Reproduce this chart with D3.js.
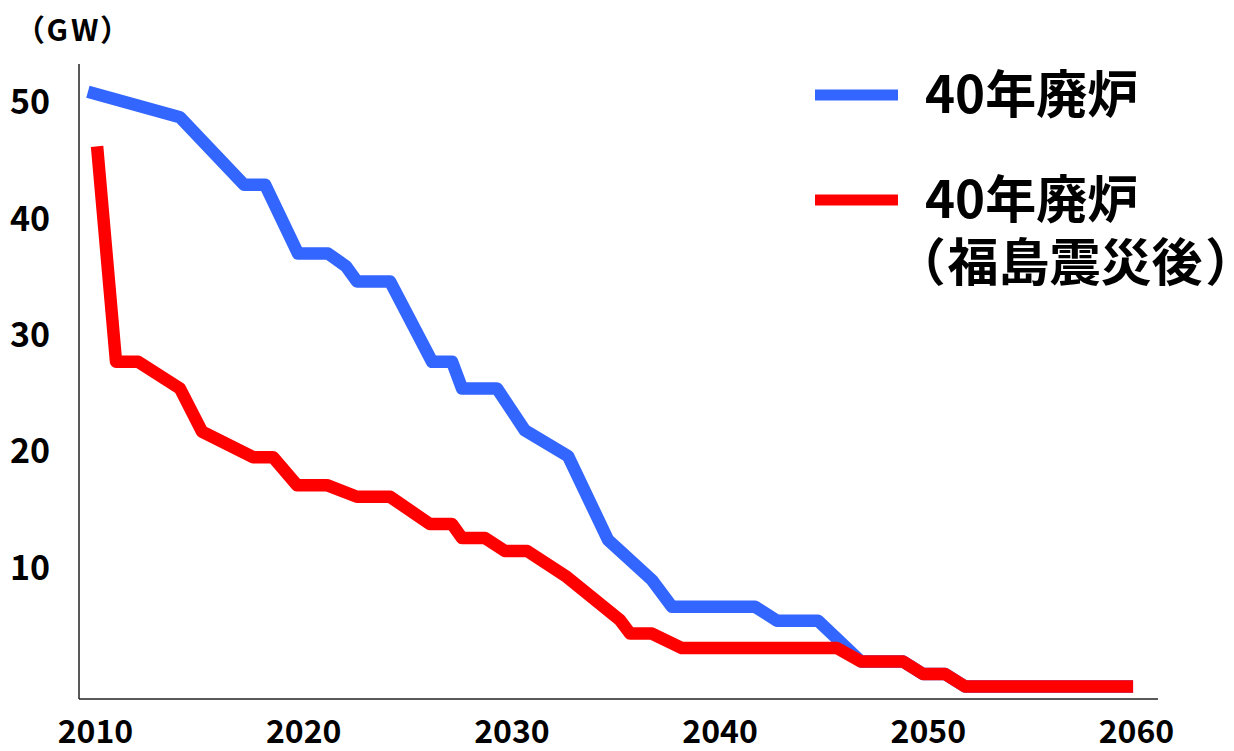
<!DOCTYPE html>
<html>
<head>
<meta charset="utf-8">
<script src="https://cdn.jsdelivr.net/npm/d3@7"></script>
<style>
  html, body { margin: 0; padding: 0; background: #fff; }
  svg { display: block; }
  text { font-family: "Noto Sans CJK JP", "Noto Sans", sans-serif; font-weight: 700; fill: #000; }
  .palt { font-feature-settings: "palt"; }
</style>
</head>
<body>
<svg id="chart" width="1234" height="751"></svg>
<script>
// Installed nuclear capacity (GW) remaining under a 40-year retirement rule
const yTickValues = [10, 20, 30, 40, 50];
const xTickValues = [2010, 2020, 2030, 2040, 2050, 2060];
const seriesNames = ["40年廃炉", "40年廃炉"];
const seriesNote = ["（", "福島震災後", "）"];

// 40-year retirement
const blueYears = [2009.66, 2014.08, 2017.16, 2018.17, 2019.75, 2021.19, 2022.06, 2022.58, 2024.17,
  2026.19, 2027.15, 2027.63, 2029.31, 2030.65, 2032.72, 2034.64, 2036.75, 2037.71, 2041.70,
  2042.76, 2044.73, 2046.79, 2048.81, 2049.77, 2050.83, 2051.79, 2059.86];
const blueValues = [51.1, 48.9, 43.1, 43.1, 37.2, 37.2, 36.1, 34.8, 34.8,
  27.9, 27.9, 25.6, 25.6, 22.0, 19.8, 12.6, 9.15, 6.85, 6.85,
  5.65, 5.65, 2.15, 2.15, 1.07, 1.07, 0, 0];

// 40-year retirement, after the Fukushima earthquake
const redYears = [2010.10, 2011.01, 2012.07, 2014.08, 2015.14, 2017.59, 2018.55, 2019.70, 2021.14,
  2022.58, 2024.17, 2026.09, 2027.15, 2027.63, 2028.73, 2029.69, 2030.75, 2032.67, 2035.22,
  2035.70, 2036.75, 2038.19, 2045.64, 2046.79, 2048.81, 2049.77, 2050.83, 2051.79, 2059.86];
const redValues = [46.4, 27.9, 27.9, 25.6, 21.9, 19.7, 19.7, 17.3, 17.3,
  16.3, 16.3, 13.95, 13.95, 12.75, 12.75, 11.65, 11.65, 9.4, 5.7,
  4.55, 4.55, 3.3, 3.3, 2.15, 2.15, 1.07, 1.07, 0, 0];

const BLUE = "#3366ff";
const RED = "#ff0000";

const svg = d3.select("#chart");

const x = d3.scaleLinear().domain([2010, 2060]).range([95, 1136]);
const y = d3.scaleLinear().domain([0, 50]).range([686.5, 104.5]);

// plot frame: left and bottom edges
const frame = { left: 79, top: 64, right: 1158, bottom: 699 };
svg.append("line")
  .attr("x1", frame.left).attr("x2", frame.left)
  .attr("y1", frame.top).attr("y2", frame.bottom)
  .attr("stroke", "#222").attr("stroke-width", 1.5);
svg.append("line")
  .attr("x1", frame.left).attr("x2", frame.right)
  .attr("y1", frame.bottom).attr("y2", frame.bottom)
  .attr("stroke", "#222").attr("stroke-width", 1.5);

// y axis labels
const yAxis = svg.append("g")
  .attr("transform", `translate(${frame.left},0)`)
  .call(d3.axisLeft(y).tickValues(yTickValues).tickSize(0).tickPadding(29).tickFormat(d3.format("d")));
yAxis.select(".domain").remove();
yAxis.attr("font-family", null);
yAxis.selectAll("text").attr("font-size", 34).attr("dy", "0.27em");

// x axis labels
const xAxis = svg.append("g")
  .attr("transform", `translate(0,${frame.bottom})`)
  .call(d3.axisBottom(x).tickValues(xTickValues).tickSize(0).tickPadding(21).tickFormat(d3.format("d")));
xAxis.select(".domain").remove();
xAxis.attr("font-family", null);
xAxis.selectAll("text").attr("font-size", 32);

// unit label
svg.append("text")
  .attr("class", "palt")
  .attr("x", 74).attr("y", 30).attr("dy", "0.35em")
  .attr("text-anchor", "middle")
  .attr("font-size", 30)
  .attr("letter-spacing", 3)
  .text("（GW）");

const line = d3.line().x(d => x(d[0])).y(d => y(d[1]));

const bluePts = blueYears.map((yr, i) => [yr, blueValues[i]]);
const redPts = redYears.map((yr, i) => [yr, redValues[i]]);

svg.append("path")
  .datum(bluePts)
  .attr("d", line)
  .attr("fill", "none").attr("stroke", BLUE)
  .attr("stroke-width", 12.5).attr("stroke-linejoin", "round").attr("stroke-linecap", "butt");

svg.append("path")
  .datum(redPts)
  .attr("d", line)
  .attr("fill", "none").attr("stroke", RED)
  .attr("stroke-width", 12.5).attr("stroke-linejoin", "round").attr("stroke-linecap", "butt");

// legend
const legend = svg.append("g");
const legendItems = [
  { color: BLUE, y: 95, label: seriesNames[0] },
  { color: RED, y: 200, label: seriesNames[1], note: seriesNote }
];
legendItems.forEach(item => {
  legend.append("line")
    .attr("x1", 815).attr("x2", 898)
    .attr("y1", item.y).attr("y2", item.y)
    .attr("stroke", item.color).attr("stroke-width", 11);
  legend.append("text")
    .attr("x", 925).attr("y", item.y).attr("dy", "0.35em")
    .attr("font-size", 51)
    .text(item.label);
  if (item.note) {
    const t = legend.append("text")
      .attr("x", 918).attr("y", item.y + 63).attr("dy", "0.35em")
      .attr("font-size", 51);
    item.note.forEach((part, k) => {
      const span = t.append("tspan").text(part);
      if (k !== 1) span.attr("class", "palt");
      if (k === 1) span.attr("dx", 4);
      if (k === 2) span.attr("dx", 5);
    });
  }
});
</script>
</body>
</html>
